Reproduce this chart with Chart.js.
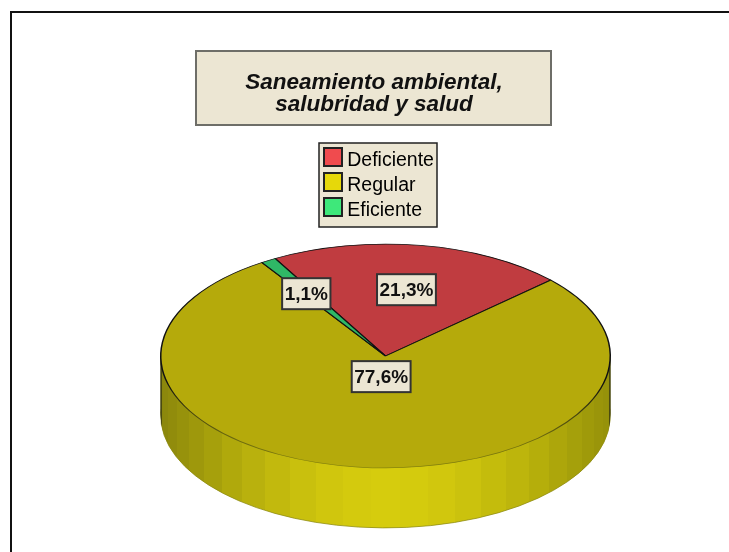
<!DOCTYPE html>
<html><head><meta charset="utf-8">
<style>html,body{margin:0;padding:0;background:#fff}#wrap{position:relative;width:729px;height:552px;overflow:hidden}canvas{display:block}
#frameTop{position:absolute;left:10px;top:11px;width:719px;height:2px;background:#111}
#frameLeft{position:absolute;left:10px;top:11px;width:2px;height:541px;background:#111}</style>
<script src="https://cdn.jsdelivr.net/npm/chart.js@4/dist/chart.umd.min.js"></script>
</head><body><div id="wrap"><canvas id="c" width="729" height="552"></canvas><div id="frameTop"></div><div id="frameLeft"></div></div>
<script>
const categories = ['Deficiente', 'Regular', 'Eficiente'];
const percentages = [21.3, 77.6, 1.1];
const sliceColors = ['#c03c40', '#b5aa0b', '#2fb866'];
const legendColors = ['#f04b4e', '#e6d80a', '#3ee87a'];
const titleLines = ['Saneamiento ambiental,', 'salubridad y salud'];
const startAngle = -29.4;

const BEIGE = '#ece6d3';
const SQUASH = 112 / 225, DEPTH = 60, TOP_CY = 356;
const labelStyle = [
  {frac: 0.6, dx: 0, dy: 0},
  {frac: 0.6, dx: 12, dy: -46},
  {frac: 0.6, dx: -9, dy: -5}
];
function hex(a, b, t) {
  const p = s => [1, 3, 5].map(i => parseInt(s.substr(i, 2), 16));
  const A = p(a), B = p(b);
  return 'rgb(' + A.map((v, i) => Math.round(v + (B[i] - v) * t)).join(',') + ')';
}
function wallGradient(ctx, cx, R) {
  const g = ctx.createLinearGradient(cx - R, 0, cx + R, 0);
  const step = 7.2;
  let prev = 0.003;
  g.addColorStop(0, '#4a4a10'); g.addColorStop(0.003, '#4a4a10');
  for (let a = -90 + step; a <= 90.01; a += step) {
    const mid = (a - step / 2) * Math.PI / 180;
    const s = Math.sin(mid), pos = Math.min(0.997, (Math.sin(a * Math.PI / 180) + 1) / 2);
    const col = hex('#d6cc0d', s < 0 ? '#8a860c' : '#94900a', Math.pow(Math.abs(s), 1.8));
    g.addColorStop(prev, col); g.addColorStop(pos, col);
    prev = pos;
  }
  g.addColorStop(0.997, '#4a4a10'); g.addColorStop(1, '#4a4a10');
  return g;
}
function rimColor(c) {
  const a = c.chart.chartArea;
  if (!a) return '#111';
  const cy = (a.top + a.bottom) / 2, R = Math.min(a.width, a.height) / 2;
  const g = c.chart.ctx.createLinearGradient(0, cy - R, 0, cy + R);
  g.addColorStop(0, '#111'); g.addColorStop(0.62, '#111');
  g.addColorStop(0.85, '#66640f'); g.addColorStop(1, '#87840c');
  return g;
}
const pie3d = {
  id: 'pie3d',
  beforeDatasetsDraw(chart) {
    const ctx = chart.ctx, meta = chart.getDatasetMeta(0), a0 = meta.data[0];
    const cx = a0.x, cy = a0.y, R = a0.outerRadius;
    const grad = wallGradient(ctx, cx, R);
    for (let d = DEPTH; d > 0; d--) {
      ctx.save();
      ctx.translate(cx, TOP_CY + d); ctx.scale(1, SQUASH); ctx.translate(-cx, -cy);
      meta.data.forEach(el => {
        const orig = el.options, o = Object.create(orig);
        o.backgroundColor = grad;
        o.borderColor = d === DEPTH ? '#8a870c' : grad;
        o.borderWidth = d === DEPTH ? 1 : 0.01;
        el.options = o; el.draw(ctx); el.options = orig;
      });
      ctx.restore();
    }
    ctx.save();
    ctx.translate(cx, TOP_CY); ctx.scale(1, SQUASH); ctx.translate(-cx, -cy);
  },
  afterDatasetsDraw(chart) {
    chart.ctx.restore();
    const ctx = chart.ctx, meta = chart.getDatasetMeta(0);
    ctx.save();
    ctx.font = 'bold 19px "Liberation Sans", Arial, sans-serif';
    ctx.textAlign = 'center'; ctx.textBaseline = 'middle';
    meta.data.forEach((el, i) => {
      const s = labelStyle[i], mid = (el.startAngle + el.endAngle) / 2, R = el.outerRadius * s.frac;
      const x = el.x + Math.cos(mid) * R + s.dx, y = TOP_CY + Math.sin(mid) * R * SQUASH + s.dy;
      const text = percentages[i].toFixed(1).replace('.', ',') + '%';
      const w = ctx.measureText(text).width + 5, h = 31;
      ctx.fillStyle = BEIGE; ctx.strokeStyle = '#333'; ctx.lineWidth = 2;
      ctx.fillRect(x - w / 2, y - h / 2, w, h); ctx.strokeRect(x - w / 2, y - h / 2, w, h);
      ctx.fillStyle = '#111'; ctx.fillText(text, x, y + 1);
    });
    ctx.restore();
  }
};
const boxes = {
  id: 'boxes',
  afterLayout(chart) {
    const t = chart.titleBlock, l = chart.legend;
    t.left = 196; t.right = 552; t.top = 72; t.bottom = 119; t.width = 356;
    const lw = 119, lh = 85;
    l.left = 318; l.right = 318 + lw; l.top = 145; l.bottom = 145 + lh; l.width = lw; l.height = lh;
  },
  beforeDraw(chart) {
    const ctx = chart.ctx;
    ctx.save();
    ctx.fillStyle = BEIGE; ctx.strokeStyle = '#6e6e68'; ctx.lineWidth = 2;
    ctx.fillRect(196, 51, 355, 74); ctx.strokeRect(196, 51, 355, 74);
    ctx.strokeStyle = '#222'; ctx.lineWidth = 1.5;
    ctx.fillRect(319, 143, 118, 84); ctx.strokeRect(319, 143, 118, 84);
    ctx.restore();
  },
  afterDraw(chart) {
    const ctx = chart.ctx;
    ctx.save();
    ctx.strokeStyle = '#222'; ctx.lineWidth = 2;
    legendColors.forEach((col, i) => {
      const y = 148 + i * 25;
      ctx.fillStyle = col;
      ctx.fillRect(324, y, 18, 18); ctx.strokeRect(324, y, 18, 18);
    });
    ctx.restore();
  }
};
new Chart(document.getElementById('c'), {
  type: 'pie',
  data: {labels: categories, datasets: [{data: percentages, backgroundColor: sliceColors, borderColor: rimColor, borderWidth: 1.5}]},
  options: {
    responsive: false, animation: false, rotation: startAngle,
    layout: {padding: {left: 160, right: 118, top: 0, bottom: 0}},
    plugins: {
      tooltip: {enabled: false},
      title: {display: true, text: titleLines, align: 'center', color: '#111', padding: 0,
        font: {family: '"Liberation Sans", Arial, sans-serif', size: 22.5, weight: 'bold', style: 'italic', lineHeight: 0.98}},
      legend: {display: true, position: 'chartArea', align: 'start',
        labels: {boxWidth: 14, boxHeight: 10, padding: 5.5, color: '#222',
          font: {family: '"Liberation Sans", Arial, sans-serif', size: 19.5},
          generateLabels: () => categories.map((c, i) => ({text: c, fillStyle: legendColors[i], strokeStyle: 'rgba(0,0,0,0)', lineWidth: 0, index: i}))}}
    }
  },
  plugins: [pie3d, boxes]
});
</script></body></html>
